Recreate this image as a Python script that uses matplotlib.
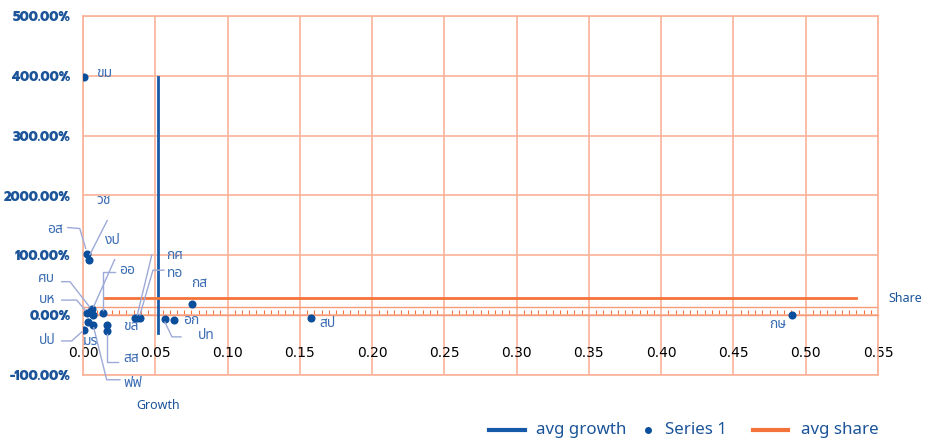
import numpy as np
import matplotlib
matplotlib.use('Agg')
from matplotlib import pyplot as plt
from matplotlib.lines import Line2D
from matplotlib.transforms import IdentityTransform

# share (x) / growth (y, 1.0 = 100%) of each item
names = ['ขม', 'อส', 'วช', 'งป', 'ออ', 'ศบ', 'บห', 'ปป', 'มร', 'ฟฟ', 'สส', 'ขล',
         '', '', 'กศ', 'ทอ', 'ปท', 'อก', 'กส', 'สป', 'กษ']
share = [0.0009, 0.0026, 0.0039, 0.0060, 0.0140, 0.0053, 0.0030, 0.0007, 0.0033, 0.0071, 0.0168, 0.0164,
         0.0071, 0.0360, 0.0376, 0.0394, 0.0567, 0.0629, 0.0752, 0.1575, 0.4905]
growth = [3.98, 1.03, 0.93, 0.11, 0.03, 0.07, 0.04, -0.24, -0.11, -0.16, -0.27, -0.17,
          0.0, -0.045, -0.045, -0.045, -0.067, -0.084, 0.184, -0.045, 0.0]

avg_growth_x = [0.052, 0.052]
avg_growth_y = [-0.29, 3.98]
avg_share_x = [0.015, 0.535]
avg_share_y = [0.28, 0.28]

xticks = np.arange(0, 0.551, 0.05)
xtick_labels = ['%.2f' % v for v in xticks]
yticks = [-1, 0, 1, 2, 3, 4, 5]
ytick_labels = ['-100.00%', '0.00%', '100.00%', '2000.00%', '300.00%', '400.00%', '500.00%']
legend_labels = ['avg growth', 'Series 1', 'avg share']

# label placement in pixels from the dot (right, down) and leader line vertices
label_pos = {
    'ขม': (20, -4, None),
    'อส': (-32, -24, [(-19, -26), (-7, -25), (-1, -5)]),
    'วช': (15, -59, [(18.6, -39), (1.3, -5)]),
    'งป': (21, -68, [(23, -49), (2, -2)]),
    'ออ': (24, -43, [(11.7, -41), (0, -41), (0, -3)]),
    'ศบ': (-44, -32, [(-29, -29.3), (-20.7, -29.3), (-1, -4)]),
    'บห': (-40, -13.7, [(-25.6, -12.7), (-10.6, -12.7), (-2.3, -2.7)]),
    'ปป': (-37, 10.7, [(-22.3, 11.4), (-12.3, 11.4), (-2.3, 2.4)]),
    'มร': (3, 20, None),
    'ฟฟ': (39.4, 58.7, [(0.5, 3), (13.4, 55), (26.7, 55)]),
    'สส': (24.4, 27, [(0, 3), (0, 30.7), (10.7, 30.7)]),
    'ขล': (24, 1, None),
    'กศ': (37.7, -62, [(14.4, -62.7), (0, -3)]),
    'ทอ': (35, -44.7, [(24, -47.7), (13, -47.7), (0, -3)]),
    'ปท': (41, 16.7, [(0, 3), (7, 17.7), (16, 17.7)]),
    'อก': (17.7, 0, None),
    'กส': (7.3, -21, None),
    'สป': (17.3, 5.3, None),
    'กษ': (-14, 9, None),
}

blue = '#0b4f9c'
label_blue = '#3b6db4'
tick_blue = '#1b5499'
orange = '#f4733a'
grid_c = '#fbb398'
leader_c = '#9daad8'
tick_font = ['Prompt', 'DejaVu Sans']
thai_font = ['Noto Sans Thai', 'Noto Sans', 'DejaVu Sans']

W, H = 928, 440
fig = plt.figure(figsize=(W / 100, H / 100), dpi=100)
ax = fig.add_axes([83 / W, 1 - 375 / H, 795 / W, 359 / H])
ax.set_xlim(0, 0.55)
ax.set_ylim(-1, 5)

ax.set_xticks(xticks)
ax.set_xticklabels(xtick_labels, color=orange, fontsize=10.5, fontweight=800, family=tick_font)
ax.set_xticks(np.arange(0, 0.5501, 0.005), minor=True)
ax.set_yticks(yticks)
ax.set_yticklabels(ytick_labels, color=tick_blue, fontsize=9.3, fontweight=800, family=tick_font)
ax.tick_params(axis='x', which='major', length=0, pad=22)
ax.tick_params(axis='x', which='minor', length=3.6, direction='in', color=orange, width=0.8)
ax.tick_params(axis='y', length=0, pad=9)
ax.grid(True, color=grid_c, linewidth=1.2)
ax.set_axisbelow(True)
for s in ax.spines.values():
    s.set_color(grid_c)
    s.set_linewidth(1.2)
ax.spines['bottom'].set_position(('data', 0))
ax.spines['bottom'].set_color('#f79a78')
ax.spines['bottom'].set_linewidth(1)
ax.axhline(-1, color=grid_c, linewidth=1.2, clip_on=False)
ax.axhline(0.13, color='#f79a78', linewidth=1)

ax.plot(avg_growth_x, avg_growth_y, color='#1659a8', linewidth=2, zorder=3)
ax.scatter(share, growth, s=34, color=blue, zorder=4, linewidths=0)
ax.plot(avg_share_x, avg_share_y, color=orange, linewidth=2, zorder=3)

fig.canvas.draw()
for n, x, y in zip(names, share, growth):
    if n not in label_pos:
        continue
    px, py = ax.transData.transform((x, y))
    dx, dy, leader = label_pos[n]
    fig.text((px + dx) / W, (py - dy) / H, n, ha='center', va='center',
             color=label_blue, fontsize=10, family=thai_font)
    if leader:
        xs = [px + a for a, b in leader]
        ys = [py - b for a, b in leader]
        fig.add_artist(Line2D(xs, ys, transform=IdentityTransform(), color=leader_c, linewidth=1))

fig.text(905 / W, 1 - 298 / H, 'Share', ha='center', va='center', color=tick_blue,
         fontsize=9, family=thai_font)
fig.text(158 / W, 1 - 405 / H, 'Growth', ha='center', va='center', color=tick_blue,
         fontsize=9, family=thai_font)

# legend drawn by hand so the handles keep the reference spacing
ly = 1 - 430 / H
fig.add_artist(Line2D([489 / W, 525 / W], [ly, ly], color='#1659a8', linewidth=3))
fig.add_artist(Line2D([648 / W], [ly], color=blue, marker='o', markersize=4, linestyle='none'))
fig.add_artist(Line2D([753 / W, 788 / W], [ly, ly], color=orange, linewidth=3))
for lx, t in zip([536, 665, 801], legend_labels):
    fig.text(lx / W, ly, t, ha='left', va='center', color=tick_blue, fontsize=12.2, family=thai_font)

fig.savefig('out.png', dpi=100)
